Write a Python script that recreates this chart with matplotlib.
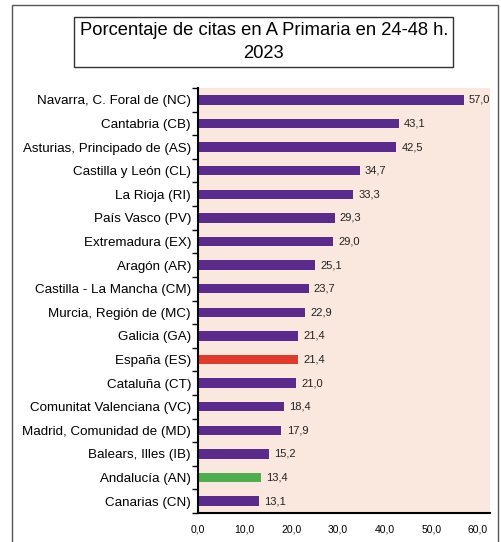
import matplotlib
matplotlib.use("Agg")
import matplotlib.pyplot as plt
import numpy as np
from matplotlib.patches import Rectangle

regions = ["Navarra, C. Foral de (NC)", "Cantabria (CB)", "Asturias, Principado de (AS)",
           "Castilla y León (CL)", "La Rioja (RI)", "País Vasco (PV)", "Extremadura (EX)",
           "Aragón (AR)", "Castilla - La Mancha (CM)", "Murcia, Región de (MC)", "Galicia (GA)",
           "España (ES)", "Cataluña (CT)", "Comunitat Valenciana (VC)", "Madrid, Comunidad de (MD)",
           "Balears, Illes (IB)", "Andalucía (AN)", "Canarias (CN)"]
values = [57.0, 43.1, 42.5, 34.7, 33.3, 29.3, 29.0, 25.1, 23.7, 22.9, 21.4,
          21.4, 21.0, 18.4, 17.9, 15.2, 13.4, 13.1]
xticks = [0, 10, 20, 30, 40, 50, 60]

purple = "#5a2b8c"
colors = [purple] * len(values)
colors[regions.index("España (ES)")] = "#e03a2c"
colors[regions.index("Andalucía (AN)")] = "#4fae4f"

plt.rcParams['font.family'] = ['Liberation Sans', 'DejaVu Sans']

fig = plt.figure(figsize=(5.02, 5.42), dpi=100)
fig.patches.append(Rectangle((12/502, -0.1), (498-12)/502, 1.1 - 5/542, transform=fig.transFigure,
                             fill=False, edgecolor="#555555", linewidth=1))

ax = fig.add_axes([198/502, 1 - 513/542, (490-198)/502, (513-88)/542])
ax.set_facecolor("#fae8df")
y = np.arange(len(values))
ax.barh(y, values, height=0.4, color=colors)
ax.set_ylim(len(values) - 1 + 0.42, -0.38)
ax.set_xlim(0, 62.6)

for yi, v in zip(y, values):
    ax.text(v + 1.1, yi, f"{v:.1f}".replace(".", ","), va="center", ha="left",
            fontsize=8, color="#222222")

ax.set_yticks(y)
ax.set_yticklabels(regions, fontsize=9.6)
ax.tick_params(axis="y", length=0, pad=5)
ax.set_yticks(np.arange(len(values) + 1) - 0.5, minor=True)
ax.tick_params(axis="y", which="minor", length=4, width=1)
ax.set_xticks(xticks)
ax.set_xticklabels([f"{t:.1f}".replace(".", ",") for t in xticks], fontsize=7.5)
ax.tick_params(axis="x", length=0, pad=8)

for s in ["top", "right"]:
    ax.spines[s].set_visible(False)
ax.spines["left"].set_linewidth(1.5)
ax.spines["bottom"].set_linewidth(1.5)

fig.text(0.5255, 1 - 42/542, "Porcentaje de citas en A Primaria en 24-48 h.\n2023",
         ha="center", va="center", fontsize=13.2, linespacing=1.45,
         bbox=dict(boxstyle="square,pad=0.3", facecolor="white", edgecolor="#333333", linewidth=1))

fig.savefig("out.png", dpi=100)
